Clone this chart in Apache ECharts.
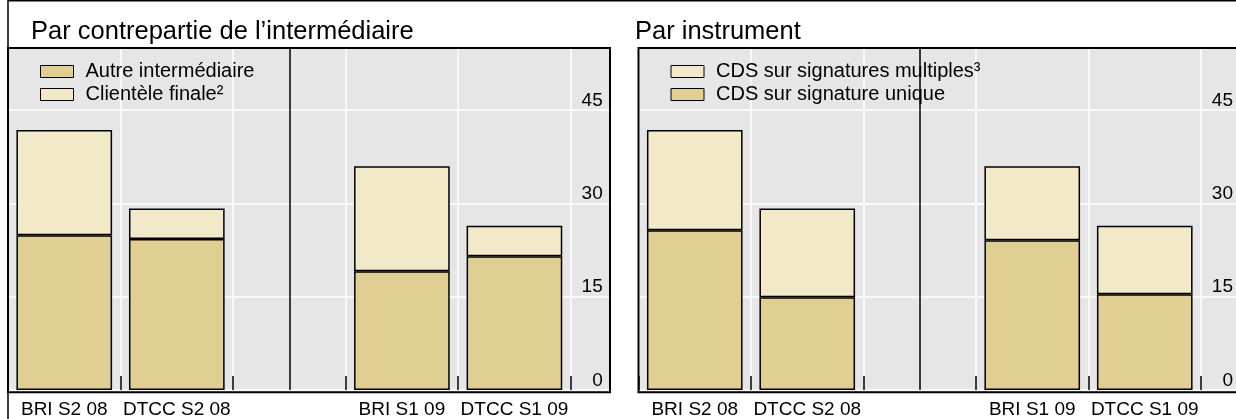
<!DOCTYPE html>
<html>
<head>
<meta charset="utf-8">
<script src="https://cdn.jsdelivr.net/npm/echarts@6/dist/echarts.min.js"></script>
<style>
  html, body { margin: 0; padding: 0; background: #ffffff; }
  #chart { width: 1236px; height: 419px; }
</style>
</head>
<body>
<div id="chart"></div>
<script>
// ---- Data ----
const categories = ['BRI S2 08', 'DTCC S2 08', '', 'BRI S1 09', 'DTCC S1 09'];
// Left panel: Par contrepartie de l'intermédiaire
const autreIntermediaire = [24.9, 24.3, null, 19.1, 21.5];
const clienteleFinale = [16.9, 4.9, null, 16.9, 4.9];
// Right panel: Par instrument
const signatureUnique = [25.7, 14.9, null, 24.1, 15.4];
const signaturesMultiples = [16.1, 14.3, null, 11.9, 11.0];
const yTickLabels = [0, 15, 30, 45];
const panelTitles = ['Par contrepartie de l\u2019intermédiaire', 'Par instrument'];
const legendLeft = ['Autre intermédiaire', 'Clientèle finale\u00B2'];
const legendRight = ['CDS sur signatures multiples\u00B3', 'CDS sur signature unique'];
const separatorIndex = 2;

// ---- Styles ----
const DARK = '#e1ce92';
const LIGHT = '#f2e9c8';
const GREY = '#e6e6e6';
const FONT = '"Liberation Sans", Arial, Helvetica, sans-serif';

const chart = echarts.init(document.getElementById('chart'), null, { renderer: 'canvas' });

const panels = [
  { left: 8, titleLeft: 31, legendLeft: 40 },
  { left: 638.5, titleLeft: 635, legendLeft: 670.5 }
];
const GRID_TOP = 48;
const GRID_H = 344.3;
const CAT_W = 562.7;
const BOX_W = 602;

function xAxisFor(i) {
  return {
    type: 'category',
    gridIndex: i,
    data: categories,
    boundaryGap: true,
    axisLine: { show: false },
    axisTick: { show: true, inside: true, length: 14, lineStyle: { color: '#000', width: 1.5 } },
    axisLabel: { interval: 0, margin: 10, color: '#000', fontSize: 19, fontFamily: FONT },
    splitLine: { show: true, lineStyle: { color: '#ffffff', width: 1.5 } }
  };
}
function yAxisFor(i) {
  return {
    type: 'value',
    gridIndex: i,
    position: 'right',
    min: 0,
    max: 55,
    interval: 15,
    axisLine: { show: false },
    axisTick: { show: true, inside: false, length: 41, lineStyle: { color: '#ffffff', width: 1.5 } },
    axisLabel: {
      margin: 32, align: 'right', verticalAlign: 'bottom', color: '#000', fontSize: 19, fontFamily: FONT,
      formatter: v => (yTickLabels.indexOf(v) >= 0 ? String(v) : '')
    },
    splitLine: { show: true, lineStyle: { color: '#ffffff', width: 1.5 } }
  };
}
function legendFor(i, names) {
  return {
    data: names,
    orient: 'vertical',
    left: panels[i].legendLeft,
    top: 61.5,
    padding: 0,
    z: 1,
    itemWidth: 33,
    itemHeight: 12,
    itemGap: 3,
    icon: 'rect',
    selectedMode: false,
    itemStyle: { borderColor: '#000', borderWidth: 1 },
    textStyle: { color: '#000', fontSize: 20, fontFamily: FONT, padding: [0, 0, 0, 7] }
  };
}
const sepMark = {
  silent: true,
  symbol: ['none', 'none'],
  label: { show: false },
  lineStyle: { color: '#000', width: 1.5, type: 'solid' },
  data: [{ xAxis: separatorIndex }]
};
function barSeries(name, data, color, i, stack, withMark) {
  const s = {
    name: name,
    type: 'bar',
    xAxisIndex: i,
    yAxisIndex: i,
    stack: stack,
    data: data,
    barCategoryGap: '15%',
    itemStyle: { color: color, borderColor: '#000', borderWidth: 1.5 }
  };
  if (withMark) s.markLine = sepMark;
  return s;
}

const graphics = [];
panels.forEach((p, i) => {
  graphics.push({ type: 'rect', z: -10, silent: true,
    shape: { x: p.left, y: GRID_TOP, width: BOX_W, height: GRID_H },
    style: { fill: GREY } });
  graphics.push({ type: 'rect', z: 100, silent: true,
    shape: { x: p.left, y: GRID_TOP, width: BOX_W, height: GRID_H },
    style: { fill: 'none', stroke: '#000', lineWidth: 2 } });
});
graphics.push({ type: 'polyline', z: 100, silent: true,
  shape: { points: [[8, 419], [8, 0.75], [1236, 0.75]] },
  style: { fill: 'none', stroke: '#000', lineWidth: 1.5 } });

const option = {
  animation: false,
  textStyle: { fontFamily: FONT },
  title: panelTitles.map((t, i) => ({
    text: t, left: panels[i].titleLeft, top: 19, padding: [0, 0, 0, 0],
    textStyle: { fontSize: 25.5, fontWeight: 'normal', color: '#000', fontFamily: FONT }
  })),
  legend: [legendFor(0, legendLeft), legendFor(1, legendRight)],
  grid: panels.map(p => ({ left: p.left, top: GRID_TOP, width: CAT_W, height: GRID_H, containLabel: false })),
  xAxis: [xAxisFor(0), xAxisFor(1)],
  yAxis: [yAxisFor(0), yAxisFor(1)],
  graphic: graphics,
  series: [
    barSeries(legendLeft[0], autreIntermediaire, DARK, 0, 'left', true),
    barSeries(legendLeft[1], clienteleFinale, LIGHT, 0, 'left', false),
    barSeries(legendRight[1], signatureUnique, DARK, 1, 'right', true),
    barSeries(legendRight[0], signaturesMultiples, LIGHT, 1, 'right', false)
  ]
};
chart.setOption(option);
</script>
</body>
</html>
